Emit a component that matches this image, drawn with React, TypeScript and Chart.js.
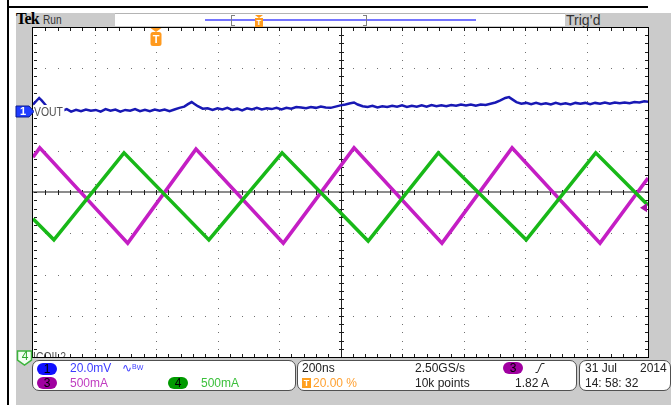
import React, { useEffect, useRef } from 'react';
import { Chart, registerables } from 'chart.js';

Chart.register(...registerables);

// Screen units: x = horizontal divisions (0..10, 200 ns/div), y = vertical divisions (-4..4)
// Ch3 (magenta, 500 mA/div) triangle vertices
const ch3Time = [0, 0.11, 1.54, 2.65, 4.07, 5.22, 6.65, 7.79, 9.22, 10];
const ch3Level = [0.84, 1.07, -1.24, 1.04, -1.24, 1.07, -1.24, 1.07, -1.24, 0.34];

// Ch4 (green, 500 mA/div) triangle vertices
const ch4Time = [0, 0.34, 1.48, 2.86, 4.05, 5.45, 6.59, 8.02, 9.15, 10];
const ch4Level = [-0.65, -1.16, 0.95, -1.16, 0.95, -1.19, 0.95, -1.16, 0.95, -0.32];

// Ch1 (blue, VOUT 20 mV/div)
const ch1Time = [
  0, 0.05, 0.1, 0.14, 0.18, 0.22, 0.3, 0.4, 0.48, 0.55,
  0.62, 0.7, 0.78, 0.86, 0.94, 1.02, 1.1, 1.18, 1.26, 1.34,
  1.42, 1.5, 1.58, 1.66, 1.74, 1.82, 1.9, 1.98, 2.06, 2.14,
  2.22, 2.3, 2.38, 2.46, 2.52, 2.58, 2.62, 2.68, 2.76, 2.84,
  2.92, 3.0, 3.08, 3.16, 3.24, 3.32, 3.4, 3.48, 3.56, 3.64,
  3.72, 3.8, 3.88, 3.96, 4.04, 4.12, 4.2, 4.28, 4.36, 4.44,
  4.52, 4.6, 4.68, 4.76, 4.84, 4.92, 5.0, 5.08, 5.16, 5.22,
  5.28, 5.36, 5.44, 5.52, 5.6, 5.68, 5.76, 5.84, 5.92, 6.0,
  6.08, 6.16, 6.24, 6.32, 6.4, 6.48, 6.56, 6.64, 6.72, 6.8,
  6.88, 6.96, 7.04, 7.12, 7.2, 7.28, 7.36, 7.44, 7.52, 7.6,
  7.68, 7.74, 7.8, 7.86, 7.94, 8.02, 8.1, 8.18, 8.26, 8.34,
  8.42, 8.5, 8.58, 8.66, 8.74, 8.82, 8.9, 8.98, 9.06, 9.14,
  9.22, 9.3, 9.38, 9.46, 9.54, 9.62, 9.7, 9.78, 9.86, 9.94, 10,
];
const ch1Level = [
  2.12, 2.2, 2.28, 2.22, 2.15, 2.08, 1.98, 2.0, 1.97, 2.01,
  1.95, 1.99, 1.96, 2.0, 1.97, 1.99, 1.95, 2.01, 1.97, 2.0,
  1.95, 1.99, 1.97, 2.01, 1.96, 1.99, 1.96, 2.0, 1.97, 2.0,
  1.96, 2.0, 2.04, 2.07, 2.13, 2.18, 2.14, 2.08, 2.02, 2.03,
  1.99, 2.03, 2.0, 2.04, 1.99, 2.02, 1.98, 2.03, 2.0, 2.04,
  2.0, 2.03, 2.01, 2.04, 2.0, 2.04, 2.02, 2.06, 2.05, 2.03,
  2.06, 2.04, 2.07, 2.05, 2.04, 2.07, 2.1, 2.12, 2.15, 2.17,
  2.12, 2.08, 2.06, 2.09, 2.05, 2.08, 2.06, 2.09, 2.07, 2.1,
  2.06, 2.09, 2.07, 2.1, 2.07, 2.11, 2.08, 2.1, 2.08, 2.11,
  2.09, 2.12, 2.1, 2.12, 2.09, 2.12, 2.11, 2.14, 2.17, 2.22,
  2.28, 2.3, 2.24, 2.18, 2.14, 2.16, 2.13, 2.16, 2.13, 2.15,
  2.12, 2.16, 2.13, 2.15, 2.12, 2.16, 2.14, 2.16, 2.13, 2.16,
  2.14, 2.17, 2.14, 2.17, 2.15, 2.17, 2.15, 2.18, 2.17, 2.2, 2.19,
];

const TRIGGER_POS = 2; // 20.00 % of record
const CH1_MARKER = 1.96;
const CH3_TRIG_LEVEL = -0.38;

const pts = (xs: number[], ys: number[]) => xs.map((x, i) => ({ x, y: ys[i] }));

const graticule = {
  id: 'graticule',
  beforeDatasetsDraw(chart: any) {
    const { ctx, chartArea: a, scales } = chart;
    const xs = scales.x;
    const ys = scales.y;
    ctx.save();
    ctx.fillStyle = '#707070';
    for (let i = 1; i < 10; i++) {
      if (i === 5) continue;
      const px = Math.round(xs.getPixelForValue(i));
      for (let j = 1; j < 40; j++) {
        const py = Math.round(ys.getPixelForValue(-4 + j * 0.2));
        ctx.fillRect(px, py, 1, 1);
      }
    }
    for (let i = -3; i <= 3; i++) {
      if (i === 0) continue;
      const py = Math.round(ys.getPixelForValue(i));
      for (let j = 1; j < 50; j++) {
        const px = Math.round(xs.getPixelForValue(j * 0.2));
        ctx.fillRect(px, py, 1, 1);
      }
    }
    const cy = Math.round(ys.getPixelForValue(0));
    const cx = Math.round(xs.getPixelForValue(5));
    ctx.fillStyle = '#8c8c8c';
    ctx.fillRect(a.left, cy - 1, a.right - a.left, 2);
    ctx.fillStyle = '#1e1e1e';
    ctx.fillRect(cx, a.top, 1, a.bottom - a.top);
    for (let j = 1; j < 50; j++) {
      const px = Math.round(xs.getPixelForValue(j * 0.2));
      ctx.fillRect(px, cy - 2, 1, 5);
      ctx.fillRect(px, a.top + 1, 1, 3);
      ctx.fillRect(px, a.bottom - 3, 1, 3);
    }
    for (let j = 1; j < 40; j++) {
      const py = Math.round(ys.getPixelForValue(-4 + j * 0.2));
      ctx.fillRect(cx - 2, py, 5, 1);
      ctx.fillRect(a.left + 1, py, 3, 1);
      ctx.fillRect(a.right - 3, py, 3, 1);
    }
    ctx.fillStyle = '#000';
    ctx.fillRect(a.left - 1, a.top, a.right - a.left + 2, 1);
    ctx.fillRect(a.left - 1, a.bottom, a.right - a.left + 2, 1);
    ctx.fillRect(a.left - 1, a.top, 1, a.bottom - a.top + 1);
    ctx.fillRect(a.right, a.top, 1, a.bottom - a.top + 1);
    ctx.restore();
  },
};

const markers = {
  id: 'markers',
  afterDatasetsDraw(chart: any) {
    const { ctx, chartArea: a, scales } = chart;
    const xs = scales.x;
    const ys = scales.y;
    ctx.save();
    // ch1 ground marker
    const y1 = Math.round(ys.getPixelForValue(CH1_MARKER)) + 0.5;
    ctx.fillStyle = '#1f3cff';
    ctx.strokeStyle = '#0a1a90';
    ctx.lineWidth = 1;
    ctx.beginPath();
    ctx.moveTo(a.left - 17, y1 - 5.5);
    ctx.lineTo(a.left - 4, y1 - 5.5);
    ctx.lineTo(a.left + 1, y1);
    ctx.lineTo(a.left - 4, y1 + 5.5);
    ctx.lineTo(a.left - 17, y1 + 5.5);
    ctx.closePath();
    ctx.fill();
    ctx.stroke();
    // ch4 marker (off-screen below)
    ctx.fillStyle = '#f2fff2';
    ctx.strokeStyle = '#3cb43c';
    ctx.lineWidth = 1.5;
    ctx.beginPath();
    ctx.moveTo(a.left - 15.5, a.bottom - 6);
    ctx.lineTo(a.left - 1.5, a.bottom - 6);
    ctx.lineTo(a.left - 1.5, a.bottom + 3);
    ctx.lineTo(a.left - 8.5, a.bottom + 8);
    ctx.lineTo(a.left - 15.5, a.bottom + 3);
    ctx.closePath();
    ctx.fill();
    ctx.stroke();
    // trigger position marker
    const tx = xs.getPixelForValue(TRIGGER_POS);
    ctx.fillStyle = '#ff9a1e';
    ctx.beginPath();
    ctx.moveTo(tx - 5.5, a.top + 1);
    ctx.lineTo(tx + 5.5, a.top + 1);
    ctx.lineTo(tx, a.top + 5);
    ctx.closePath();
    ctx.fill();
    ctx.beginPath();
    (ctx as any).roundRect(tx - 5.5, a.top + 5, 11, 14, 2.5);
    ctx.fill();
    // ch3 trigger level marker
    const y3 = ys.getPixelForValue(CH3_TRIG_LEVEL);
    ctx.fillStyle = '#a514a5';
    ctx.beginPath();
    ctx.moveTo(a.right - 8, y3);
    ctx.lineTo(a.right - 1, y3 - 4.5);
    ctx.lineTo(a.right - 1, y3 + 4.5);
    ctx.closePath();
    ctx.fill();
    ctx.restore();
  },
};

const abs = (left: number, top: number, extra: any = {}) => ({
  position: 'absolute' as const,
  left,
  top,
  ...extra,
});

const T = (left: number, top: number, s: string, color = '#222', extra: any = {}) => (
  <div style={abs(left, top, { fontSize: 12, lineHeight: '12px', color, whiteSpace: 'pre', ...extra })}>{s}</div>
);

const Pill = ({ left, top, bg, label }: { left: number; top: number; bg: string; label: string }) => (
  <div
    style={abs(left, top, {
      width: 20,
      height: 12,
      borderRadius: 6,
      background: bg,
      color: '#000',
      fontSize: 12,
      lineHeight: '12px',
      textAlign: 'center',
    })}
  >
    {label}
  </div>
);

export default function App() {
  const ref = useRef<HTMLCanvasElement>(null);

  useEffect(() => {
    if (!ref.current) return;
    const chart = new Chart(ref.current, {
      type: 'line',
      data: {
        datasets: [
          {
            data: pts(ch1Time, ch1Level),
            borderColor: '#1818b4',
            borderWidth: 2.5,
            pointRadius: 0,
          },
          {
            data: pts(ch4Time, ch4Level),
            borderColor: '#18b818',
            borderWidth: 3.5,
            pointRadius: 0,
          },
          {
            data: pts(ch3Time, ch3Level),
            borderColor: '#c41ec4',
            borderWidth: 3.5,
            pointRadius: 0,
          },
        ],
      },
      options: {
        responsive: false,
        animation: false,
        parsing: true,
        layout: { padding: { left: 33, right: 23, top: 27, bottom: 48 } },
        elements: { line: { tension: 0 }, point: { radius: 0 } },
        scales: {
          x: { type: 'linear', min: 0, max: 10, display: false },
          y: { type: 'linear', min: -4, max: 4, display: false },
        },
        plugins: { legend: { display: false }, tooltip: { enabled: false } },
      },
      plugins: [graticule, markers],
    } as any);
    return () => chart.destroy();
  }, []);

  return (
    <div
      style={{
        position: 'absolute',
        left: 0,
        top: 0,
        width: 671,
        height: 405,
        overflow: 'hidden',
        background: '#fff',
        fontFamily: '"Liberation Sans", Arial, sans-serif',
      }}
    >
      <div style={abs(7, 0, { width: 2, height: 405, background: '#000' })} />
      <div style={abs(7, 6, { width: 641, height: 2, background: '#000' })} />
      <div style={abs(16, 13, { width: 655, height: 392, background: '#cbcbcb' })} />
      <div style={abs(32, 27, { width: 617, height: 331, background: '#fff' })} />

      {/* header */}
      <div style={abs(115, 13, { width: 450, height: 13, background: '#fff', borderTop: '1px solid #b4b4b4', boxSizing: 'border-box' })} />
      <div style={abs(16, 11, { fontFamily: '"Liberation Serif", serif', fontWeight: 'bold', fontSize: 16, lineHeight: '16px', color: '#000', letterSpacing: -0.8 })}>Tek</div>
      <div style={abs(43, 13, { fontSize: 13, lineHeight: '13px', color: '#333', transform: 'scaleX(0.78)', transformOrigin: 'left' })}>Run</div>
      <div style={abs(205, 19, { width: 271, height: 2, background: '#7474ff' })} />
      <div style={abs(231, 15, { width: 3, height: 9, borderLeft: '1px solid #808080', borderTop: '1px solid #808080', borderBottom: '1px solid #808080' })} />
      <div style={abs(363, 15, { width: 3, height: 9, borderRight: '1px solid #808080', borderTop: '1px solid #808080', borderBottom: '1px solid #808080' })} />
      <div style={abs(255, 15, { width: 0, height: 0, borderLeft: '4px solid transparent', borderRight: '4px solid transparent', borderTop: '3px solid #ff9a1e' })} />
      <div style={abs(255, 18, { width: 8, height: 9, background: '#ff9a1e', color: '#fff', fontSize: 8, lineHeight: '9px', textAlign: 'center', fontWeight: 'bold' })}>T</div>
      <div style={abs(566, 13, { fontSize: 14, lineHeight: '14px', color: '#333' })}>Trig’d</div>

      <canvas ref={ref} width={671} height={405} style={{ position: 'absolute', left: 0, top: 0, width: 671, height: 405 }} />

      {/* overlays on markers */}
      <div style={abs(17, 106, { width: 12, fontSize: 11, lineHeight: '11px', color: '#fff', textAlign: 'center', fontWeight: 'bold' })}>1</div>
      <div style={abs(34, 105, { fontSize: 13, lineHeight: '13px', color: '#505050', background: '#fff', transform: 'scaleX(0.8)', transformOrigin: 'left', paddingRight: 2 })}>VOUT</div>
      <div style={abs(18, 350, { width: 14, fontSize: 12, lineHeight: '12px', color: '#2ca82c', textAlign: 'center' })}>4</div>
      <div style={abs(33, 349, { width: 34, height: 8, overflow: 'hidden' })}>
        <div style={abs(0, 1, { fontSize: 13, lineHeight: '13px', color: '#505050', transform: 'scaleX(0.8)', transformOrigin: 'left' })}>ICOIL2</div>
      </div>
      <div style={abs(150, 33, { width: 12, fontSize: 11, lineHeight: '12px', color: '#fff', textAlign: 'center', fontWeight: 'bold' })}>T</div>

      {/* info boxes */}
      <div style={abs(32, 360, { width: 264, height: 31, border: '1px solid #505050', borderRadius: 7, background: '#fff', boxSizing: 'border-box' })} />
      <div style={abs(297, 360, { width: 280, height: 31, border: '1px solid #505050', borderRadius: 7, background: '#fff', boxSizing: 'border-box' })} />
      <div style={abs(579, 360, { width: 92, height: 31, border: '1px solid #505050', borderRadius: 7, background: '#fff', boxSizing: 'border-box' })} />

      <Pill left={37} top={363} bg="#1010ff" label="1" />
      <Pill left={37} top={377} bg="#a000a0" label="3" />
      <Pill left={168} top={377} bg="#009a00" label="4" />
      {T(70, 362, '20.0mV', '#3c3cff')}
      <div style={abs(122, 361, { color: '#3c3cff', whiteSpace: 'pre', lineHeight: '12px' })}>
        <span style={{ fontSize: 12 }}>∿</span>
        <span style={{ fontSize: 7, verticalAlign: 'top' }}>B</span>
        <span style={{ fontSize: 7, verticalAlign: 'middle' }}>W</span>
      </div>
      {T(70, 377, '500mA', '#c03cc0')}
      {T(201, 377, '500mA', '#3cc03c')}

      {T(302, 362, '200ns')}
      <div style={abs(302, 378, { width: 9, height: 10, background: '#ffa020', color: '#fff', fontSize: 9, lineHeight: '10px', textAlign: 'center', fontWeight: 'bold' })}>T</div>
      {T(313, 377, '20.00 %', '#ffa030')}
      {T(415, 362, '2.50GS/s')}
      {T(415, 377, '10k points')}
      <Pill left={503} top={362} bg="#a000a0" label="3" />
      <svg style={abs(535, 363)} width={10} height={10}>
        <polyline points="0.5,9.5 2.5,9.5 6.5,0.5 9.5,0.5" fill="none" stroke="#222" strokeWidth={1} />
      </svg>
      {T(515, 377, '1.82 A')}

      {T(585, 362, '31 Jul')}
      {T(640, 362, '2014')}
      {T(585, 377, '14: 58: 32')}
    </div>
  );
}
